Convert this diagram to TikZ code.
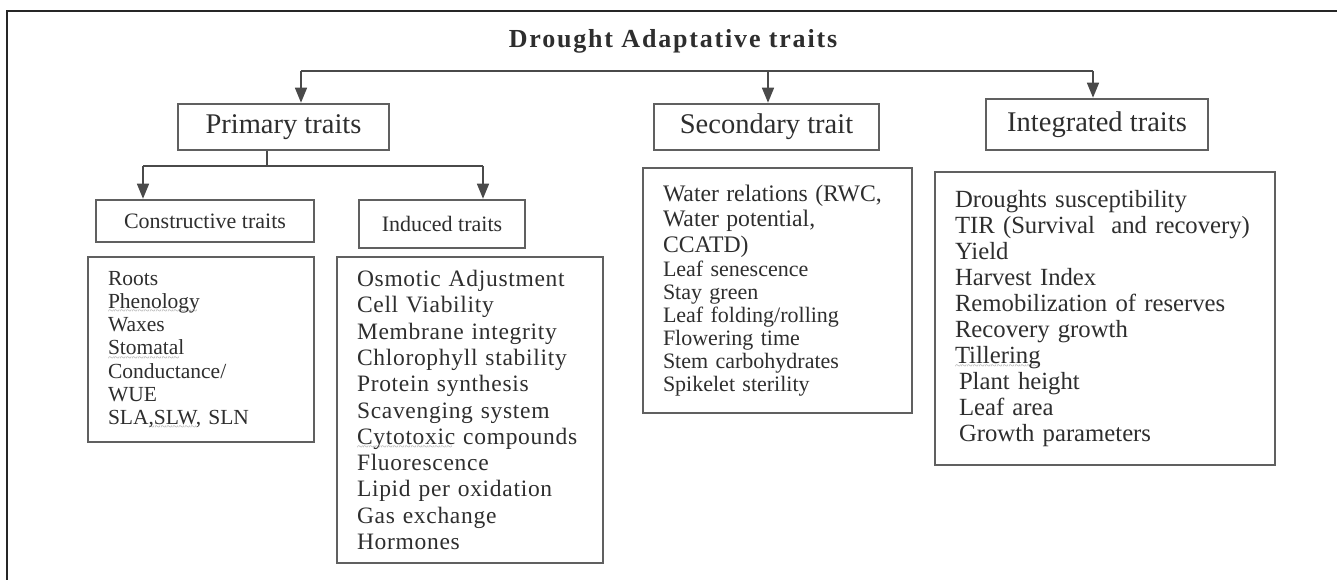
\documentclass[tikz,border=0pt]{standalone}
\usepackage{fontspec}
\setmainfont{Liberation Serif}
\newfontfamily\titlefont[LetterSpace=7]{Liberation Serif}
\newfontfamily\widefont[LetterSpace=3]{Liberation Serif}
\usetikzlibrary{arrows.meta}
\definecolor{ink}{HTML}{2E2E2E}
\definecolor{wire}{HTML}{4A4A4A}
\definecolor{boxline}{HTML}{606060}
\definecolor{squigcol}{HTML}{A0A0A0}
% wavy spell-check style underline: a row of small tildes under the word
\newcommand\squig[1]{\leavevmode\setbox0=\hbox{#1}\rlap{\raisebox{-6.5pt}[0pt][0pt]{\color{squigcol}\fontsize{11}{11}\selectfont\leaders\hbox{\char"7E}\hskip\wd0}}\box0\relax}
\tikzset{
  box/.style={draw=boxline, line width=1.6pt, inner sep=0pt, text=ink},
  listbox/.style={box, align=left, inner xsep=20pt, inner ysep=0pt},
  conn/.style={draw=wire, line width=1.5pt},
  arr/.style={conn, -{Triangle[width=12pt,length=15pt]}, shorten >=0.5pt},
  frameline/.style={draw=black!85, line width=1.6pt},
}
\begin{document}
\begin{tikzpicture}[x=1pt,y=-1pt]
\useasboundingbox (0,0) rectangle (1337,580);
\fill[white] (0,0) rectangle (1337,580);
% outer frame (top and left edges)
\draw[frameline] (7,580) -- (7,11) -- (1337,11);

% title
\node[text=ink, font=\titlefont\bfseries\fontsize{26}{30}\selectfont] (title) at (673,41) {Drought Adaptative traits};

% first level
\node[box, minimum width=211pt, minimum height=46pt, font=\fontsize{28.5}{31}\selectfont] (prim) at (283.5,127) {Primary traits};
\node[box, minimum width=225pt, minimum height=46pt, font=\fontsize{28.5}{31}\selectfont] (sec) at (766.5,127) {Secondary trait};
\node[box, minimum width=222pt, minimum height=51pt, font=\fontsize{28.5}{31}\selectfont] (integ) at (1097,124.5) {Integrated traits};

% second level
\node[box, minimum width=218pt, minimum height=42pt, font=\fontsize{22}{24}\selectfont] (cons) at (205,221) {Constructive traits};
\node[box, minimum width=166pt, minimum height=48pt, font=\fontsize{22}{24}\selectfont] (ind) at (442,224) {Induced traits};

% trait lists
\node[listbox, text width=186pt, minimum height=185pt, font=\fontsize{21.5}{23.2}\selectfont] (conslist) at (201,349.5)
  {Roots\\ \squig{Phenology}\\ Waxes\\ \squig{Stomatal}\\ Conductance/\\ WUE\\ SLA\squig{,SLW,} SLN};
\node[listbox, text width=226pt, minimum height=306pt, font=\widefont\fontsize{23.5}{26.3}\selectfont] (indlist) at (470,410)
  {Osmotic Adjustment\\ Cell Viability\\ Membrane integrity\\ Chlorophyll stability\\ Protein synthesis\\ Scavenging system\\ \squig{Cytotoxic} compounds\\ Fluorescence\\ Lipid per oxidation\\ Gas exchange\\ Hormones};
\node[listbox, text width=229pt, minimum height=245pt, font=\fontsize{22}{23}\selectfont] (seclist) at (777.5,290.5)
  {{\fontsize{23.7}{25.5}\selectfont Water relations (RWC,}\\[2.5pt]
   {\fontsize{23.7}{25.5}\selectfont Water potential,}\\[2.5pt]
   {\fontsize{23.7}{25.5}\selectfont CCATD)}\\[1pt]
   Leaf senescence\\ Stay green\\ Leaf folding/rolling\\ Flowering time\\ Stem carbohydrates\\ Spikelet sterility};
\node[listbox, text width=300pt, minimum height=293pt, font=\fontsize{24.7}{26}\selectfont] (intlist) at (1105,318.5)
  {Droughts susceptibility\\ TIR (Survival\ \ and recovery)\\ Yield\\ Harvest Index\\ Remobilization of reserves\\ Recovery growth\\ \squig{Tillering}\\
   \hspace*{4pt}Plant height\\ \hspace*{4pt}Leaf area\\ \hspace*{4pt}Growth parameters};

% connectors from the title bus
\coordinate (busL) at (301,71);
\coordinate (busM) at (768,71);
\coordinate (busR) at (1093,71);
\draw[conn] (busL) -- (busR);
\draw[arr] (busL) -- (busL |- prim.north);
\draw[arr] (busM) -- (busM |- sec.north);
\draw[arr] (busR) -- (busR |- integ.north);

% connectors below the primary traits
\coordinate (pj) at (267,166);
\coordinate (subL) at (143,166);
\coordinate (subR) at (483,166);
\draw[conn] (prim.south -| pj) -- (pj);
\draw[conn] (subL) -- (subR);
\draw[arr] (subL) -- (subL |- cons.north);
\draw[arr] (subR) -- (subR |- ind.north);
\end{tikzpicture}
\end{document}
